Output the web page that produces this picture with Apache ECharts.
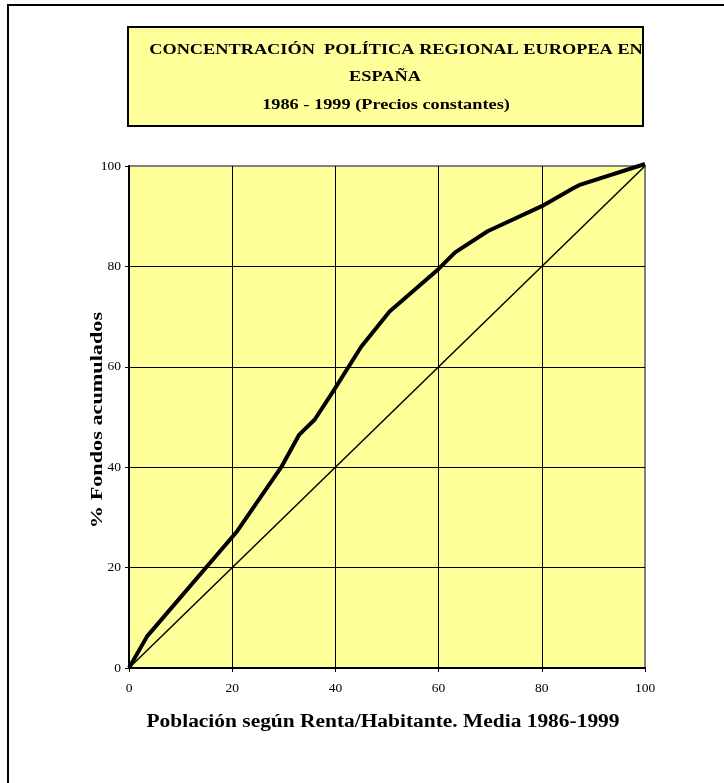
<!DOCTYPE html>
<html>
<head>
<meta charset="utf-8">
<script src="https://cdn.jsdelivr.net/npm/echarts@6/dist/echarts.min.js"></script>
<style>
  html, body { margin: 0; padding: 0; background: #fff; }
  #chart { width: 724px; height: 783px; }
</style>
</head>
<body>
<div id="chart"></div>
<script>
// Curva de concentración (población acumulada %, fondos acumulados %)
const poblacion = [0, 3.5, 21, 29.5, 33, 36, 39.5, 45, 50.5, 60, 63.2, 69.5, 80, 86, 87.5, 100];
const fondos    = [0, 6.3, 27.3, 40, 46.5, 49.5, 55, 64, 71, 79.5, 82.8, 87, 92, 95.5, 96.3, 100.4];
// Línea de equidistribución
const diagX = [0, 100];
const diagY = [0, 100];

const titleLines = [
  'CONCENTRACIÓN  POLÍTICA REGIONAL EUROPEA EN',
  'ESPAÑA',
  '1986 - 1999 (Precios constantes)'
];
const xName = 'Población según Renta/Habitante. Media 1986-1999';
const yName = '% Fondos acumulados';

const serif = '"Liberation Serif", "Times New Roman", serif';

const chart = echarts.init(document.getElementById('chart'));

// texto en negrita, algo estirado a lo largo como en el original
const boldText = (text, x, y, size, stretch, rot) => ({
  type: 'text', x: x, y: y, rotation: rot || 0, scaleX: stretch, silent: true,
  style: { text: text, fontFamily: serif, fontWeight: 'bold', fontSize: size, fill: '#000', align: 'center', verticalAlign: 'middle' }
});

chart.setOption({
  backgroundColor: '#ffffff',
  animation: false,
  grid: {
    left: 129, top: 166, right: 79, bottom: 115,
    show: true,
    backgroundColor: '#FFFF99',
    borderColor: '#808080',
    borderWidth: 2
  },
  xAxis: {
    type: 'value',
    min: 0, max: 100, interval: 20,
    axisLine: { show: true, lineStyle: { color: '#000', width: 2 } },
    axisTick: { show: true, length: 4, lineStyle: { color: '#000', width: 1 } },
    axisLabel: { fontFamily: serif, fontSize: 13.5, color: '#000', margin: 13 },
    splitLine: { show: true, showMinLine: false, showMaxLine: false, lineStyle: { color: '#000', width: 1 } }
  },
  yAxis: {
    type: 'value',
    min: 0, max: 100, interval: 20,
    axisLine: { show: true, lineStyle: { color: '#000', width: 2 } },
    axisTick: { show: true, length: 4, lineStyle: { color: '#000', width: 1 } },
    axisLabel: { fontFamily: serif, fontSize: 13.5, color: '#000', margin: 8 },
    splitLine: { show: true, showMinLine: false, showMaxLine: false, lineStyle: { color: '#000', width: 1 } }
  },
  series: [
    {
      type: 'line',
      data: diagX.map((x, i) => [x, diagY[i]]),
      showSymbol: false,
      lineStyle: { color: '#000', width: 1.5 },
      clip: false,
      silent: true
    },
    {
      type: 'line',
      data: poblacion.map((x, i) => [x, fondos[i]]),
      showSymbol: false,
      lineStyle: { color: '#000', width: 4, join: 'round' },
      clip: false,
      silent: true
    }
  ],
  graphic: [
    {
      type: 'rect',
      shape: { x: 8, y: 5, width: 900, height: 900 },
      style: { fill: 'none', stroke: '#000', lineWidth: 2 },
      silent: true
    },
    {
      type: 'rect',
      shape: { x: 128, y: 27, width: 515, height: 99 },
      style: { fill: '#FFFF99', stroke: '#000', lineWidth: 2 },
      silent: true
    },
    boldText(titleLines[0], 396, 50, 15, 1.22),
    boldText(titleLines[1], 385, 77, 15, 1.22),
    boldText(titleLines[2], 386, 105, 15, 1.22),
    boldText(xName, 383, 722, 18, 1.19),
    boldText(yName, 98, 420, 16, 1.39, Math.PI / 2)
  ]
});
</script>
</body>
</html>
